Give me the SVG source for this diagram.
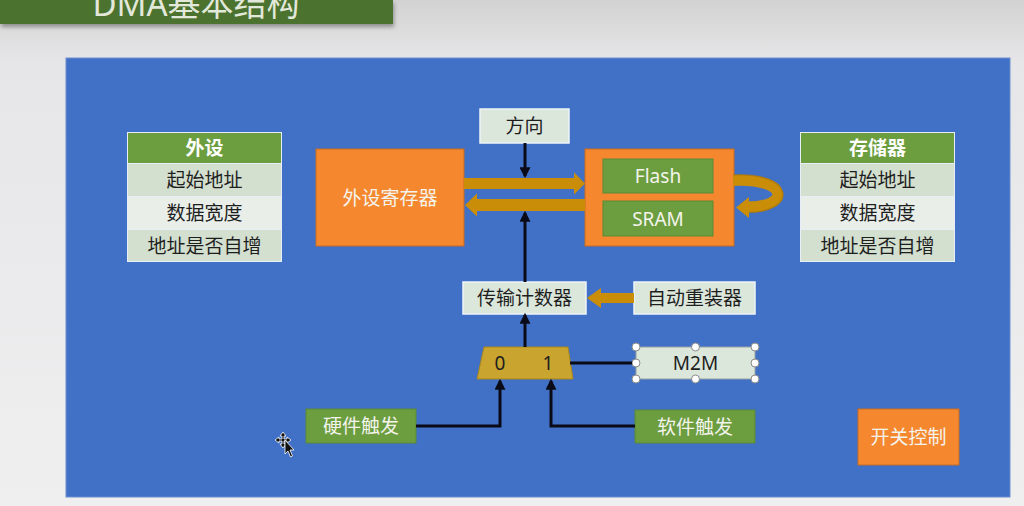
<svg xmlns="http://www.w3.org/2000/svg" width="1024" height="506" viewBox="0 0 1024 506">
  <defs>
    <linearGradient id="bg" x1="0" y1="0" x2="0" y2="1">
      <stop offset="0" stop-color="#d2d2d2"/>
      <stop offset="0.12" stop-color="#e6e6e8"/>
      <stop offset="1" stop-color="#efeff0"/>
    </linearGradient>
    <filter id="shadow" x="-5%" y="-20%" width="110%" height="160%">
      <feDropShadow dx="1" dy="3" stdDeviation="2" flood-color="#000" flood-opacity="0.35"/>
    </filter>
    <marker id="ah" viewBox="0 0 10 10" refX="8" refY="5" markerWidth="11" markerHeight="11" markerUnits="userSpaceOnUse" orient="auto">
      <path d="M0,0 L10,5 L0,10 Z" fill="#0b0b18"/>
    </marker>
    <style>
      .t { font-family: "Noto Sans", "Noto Sans CJK SC", sans-serif; text-anchor: middle; dominant-baseline: central; }
      .dark { fill: #1e1e1e; font-size: 19px; }
      .lite { fill: #f4f4ec; font-size: 19px; }
      .hdr { fill: #ffffff; font-size: 19px; font-weight: bold; }
      .orange { fill: #f5882f; stroke: #c86a20; stroke-width: 1; }
      .green { fill: #6c9e40; stroke: #5a8a35; stroke-width: 1; }
      .pale { fill: #dce7dc; stroke: #eef4f8; stroke-width: 1.5; }
      .row1 { fill: #d3dfcf; }
      .row2 { fill: #e9eee9; }
      .wire { fill: none; stroke: #0b0b18; stroke-width: 3; }
      .gold { fill: #c98d08; }
      .handle { fill: #ffffff; stroke: #8a8a8a; stroke-width: 1; }
    </style>
  </defs>

  <!-- page -->
  <rect x="0" y="0" width="1024" height="506" fill="url(#bg)"/>
  <rect x="0" y="0" width="393" height="24" fill="#4c722f" filter="url(#shadow)"/>
  <text x="196" y="16" font-family="'Noto Sans', 'Noto Sans CJK SC', sans-serif" font-size="33" fill="#e2e8da" text-anchor="middle">DMA基本结构</text>

  <!-- blue panel -->
  <rect x="66" y="58" width="944" height="439" fill="#4171c6" stroke="#6d8fd0" stroke-width="1"/>

  <!-- left table -->
  <g id="periph-table">
    <rect x="127" y="132" width="155" height="130" fill="#e6eef8"/>
    <rect x="128" y="133" width="153" height="30" fill="#6c9e40"/>
    <rect x="128" y="164" width="153" height="32" class="row1"/>
    <rect x="128" y="197" width="153" height="32" class="row2"/>
    <rect x="128" y="230" width="153" height="31" class="row1"/>
    <text class="t hdr" x="204.5" y="148">外设</text>
    <text class="t dark" x="204.5" y="180">起始地址</text>
    <text class="t dark" x="204.5" y="213">数据宽度</text>
    <text class="t dark" x="204.5" y="246">地址是否自增</text>
  </g>

  <!-- right table -->
  <g id="mem-table">
    <rect x="800" y="132" width="155" height="130" fill="#e6eef8"/>
    <rect x="801" y="133" width="153" height="30" fill="#6c9e40"/>
    <rect x="801" y="164" width="153" height="32" class="row1"/>
    <rect x="801" y="197" width="153" height="32" class="row2"/>
    <rect x="801" y="230" width="153" height="31" class="row1"/>
    <text class="t hdr" x="877.5" y="148">存储器</text>
    <text class="t dark" x="877.5" y="180">起始地址</text>
    <text class="t dark" x="877.5" y="213">数据宽度</text>
    <text class="t dark" x="877.5" y="246">地址是否自增</text>
  </g>

  <g id="direction">
    <rect x="480" y="109" width="89" height="34" class="pale"/>
    <text class="t dark" x="524.5" y="126">方向</text>
  </g>

  <g id="periph-reg">
    <rect x="316" y="149" width="148" height="97" class="orange"/>
    <text class="t lite" x="390" y="197.5">外设寄存器</text>
  </g>

  <g id="memory">
    <rect x="585" y="149" width="149" height="97" class="orange"/>
    <rect x="603" y="159" width="110" height="34" class="green"/>
    <text class="t lite" x="658" y="176" font-size="18">Flash</text>
    <rect x="603" y="201" width="110" height="35" class="green"/>
    <text class="t lite" x="658" y="218.5" font-size="18">SRAM</text>
  </g>

  <g id="counter">
    <rect x="463" y="282" width="123" height="32" class="pale"/>
    <text class="t dark" x="524.5" y="298">传输计数器</text>
  </g>

  <g id="reload">
    <rect x="634" y="282" width="121" height="32" class="pale"/>
    <text class="t dark" x="694.5" y="298">自动重装器</text>
  </g>

  <g id="mux">
    <polygon points="484,347 568,347 573,379 477,379" fill="#c9a42e" stroke="#a8871f" stroke-width="1"/>
    <text class="t dark" x="500" y="363" font-size="18">0</text>
    <text class="t dark" x="548" y="363" font-size="18">1</text>
  </g>

  <g id="m2m">
    <rect x="636" y="347" width="119" height="32" fill="#dce7dc" stroke="#9aa0a0" stroke-width="1"/>
    <text class="t dark" x="695.5" y="363" font-size="18">M2M</text>
    <circle class="handle" cx="636" cy="347" r="4"/>
    <circle class="handle" cx="695.5" cy="347" r="4"/>
    <circle class="handle" cx="755" cy="347" r="4"/>
    <circle class="handle" cx="636" cy="363" r="4"/>
    <circle class="handle" cx="755" cy="363" r="4"/>
    <circle class="handle" cx="636" cy="379" r="4"/>
    <circle class="handle" cx="695.5" cy="379" r="4"/>
    <circle class="handle" cx="755" cy="379" r="4"/>
  </g>

  <g id="hw-trigger">
    <rect x="306" y="409" width="110" height="34" class="green"/>
    <text class="t lite" x="361" y="426">硬件触发</text>
  </g>

  <g id="sw-trigger">
    <rect x="635" y="410" width="120" height="33" class="green"/>
    <text class="t lite" x="695" y="426.5">软件触发</text>
  </g>

  <g id="switch">
    <rect x="858" y="409" width="101" height="56" class="orange"/>
    <text class="t lite" x="908.5" y="437">开关控制</text>
  </g>

  <g id="connectors">
    <!-- data transfer arrows -->
    <polygon class="gold" points="464,178 574,178 574,172.5 585,183.5 574,194.5 574,189 464,189"/>
    <polygon class="gold" points="585,199 477,199 477,193.5 465,205 477,216.5 477,211 585,211"/>
    <path d="M733,180.5 C790,178 790,207 748,207" fill="none" stroke="#c98d08" stroke-width="11"/>
    <path d="M733,175 C796,172 797,212 748,212.5" fill="none" stroke="#a87405" stroke-width="1.5" opacity="0.6"/>
    <polygon class="gold" points="749,197 736,207.5 749,218"/>
    <!-- reload arrow -->
    <polygon class="gold" points="634,293 601,293 601,288 587,298 601,308 601,303 634,303"/>
    <!-- control wires -->
    <path class="wire" d="M525,143 V176" marker-end="url(#ah)"/>
    <path class="wire" d="M525,282 V213" marker-end="url(#ah)"/>
    <path class="wire" d="M525,347 V315" marker-end="url(#ah)"/>
    <path class="wire" d="M570,363 H632"/>
    <path class="wire" d="M416,426 H500 V381" marker-end="url(#ah)"/>
    <path class="wire" d="M635,426 H551 V381" marker-end="url(#ah)"/>
  </g>

  <!-- mouse cursor -->
  <g id="cursor" fill="#111" stroke="#fff" stroke-width="0.8">
    <path d="M283,432 L286,436 L284,436 L284,439 L287,439 L287,437 L291,440 L287,443 L287,441 L284,441 L284,444 L286,444 L283,448 L280,444 L282,444 L282,441 L279,441 L279,443 L275,440 L279,437 L279,439 L282,439 L282,436 L280,436 Z"/>
    <path d="M285,440 L285,454 L288,451 L290.5,457 L292.5,456 L290,450 L294,450 Z"/>
  </g>
</svg>
